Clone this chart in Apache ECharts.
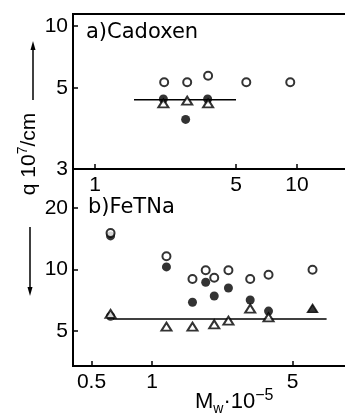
<!DOCTYPE html>
<html><head><meta charset="utf-8">
<script src="https://cdn.jsdelivr.net/npm/echarts@6/dist/echarts.min.js"></script>
<style>html,body{margin:0;padding:0;background:#fff}#c{width:345px;height:418px}</style>
</head><body><div id="c"></div>
<script>
// ---- a) Cadoxen ----
const aOpenX = [2.20, 2.86, 3.63, 5.61, 9.26];
const aOpenY = [5.33, 5.33, 5.74, 5.33, 5.33];
const aFillX = [2.18, 2.81, 3.61];
const aFillY = [4.42, 3.52, 4.42];
const aTriX = [2.18, 2.86, 3.63];
const aTriY = [4.21, 4.34, 4.21];
const aLineX = [1.56, 4.99];
const aLineY = [4.38, 4.38];
// ---- b) FeTNa ----
const bOpenX = [0.622, 1.18, 1.59, 1.85, 2.04, 2.40, 3.08, 3.80, 6.29];
const bOpenY = [15.1, 11.6, 8.98, 9.91, 9.12, 9.91, 8.98, 9.43, 9.98];
const bFillX = [0.622, 0.622, 1.18, 1.59, 1.85, 2.04, 2.40, 3.08, 3.80];
const bFillY = [14.6, 5.9, 10.3, 6.91, 8.66, 7.42, 8.12, 7.09, 6.26];
const bFillTriX = [6.29];
const bFillTriY = [6.45];
const bTriX = [0.622, 1.18, 1.59, 2.04, 2.40, 3.08, 3.80];
const bTriY = [6.06, 5.25, 5.25, 5.39, 5.62, 6.43, 5.83];
const bLineX = [0.64, 7.39];
const bLineY = [5.73, 5.73];
// ---- tick labels ----
const aXTicks = [1, 5, 10];
const aYTicks = [5, 10];
const aYBottomLabel = '3';
const bXTicks = [0.5, 1, 5];
const bYTicks = [5, 10, 20];

const L = Math.log10;
const pts = (xs, ys) => xs.map((x, i) => [L(x), L(ys[i])]);
const FONT = '"Liberation Sans Narrow","Liberation Sans",sans-serif';
const lab = {color:'#000', fontFamily: FONT, fontSize: 21};

const aYMin = 0.3058, aYMax = 1.0583;
function xAxis(idx, min, max, ticks){
  return {type:'value', gridIndex: idx, min, max, position:'bottom',
    axisLine:{show:true, onZero:false, lineStyle:{color:'#000', width:2}},
    splitLine:{show:false},
    axisTick:{show:true, inside:true, length:5, lineStyle:{color:'#000', width:1.5}, customValues: ticks.map(L)},
    axisLabel:Object.assign({margin:6, customValues: ticks.map(L), formatter: v => {
      const t = ticks.find(t => Math.abs(L(t)-v) < 1e-6); return t===undefined?'':String(t);}}, lab)};
}
const chart = echarts.init(document.getElementById('c'));
const sym = {
  open: {symbol:'circle', symbolSize:8, itemStyle:{color:'#fff', borderColor:'#000', borderWidth:2}},
  fill: {symbol:'circle', symbolSize:9, itemStyle:{color:'#000', borderColor:'#000', borderWidth:0}},
  tri: {symbol:'triangle', symbolSize:[10,8], itemStyle:{color:'#fff', borderColor:'#000', borderWidth:2}},
  ftri: {symbol:'triangle', symbolSize:[10,8], itemStyle:{color:'#000', borderColor:'#000', borderWidth:1.5}}
};
function sc(x, y, xs, ys, kind, z){
  return Object.assign({type:'scatter', xAxisIndex:x, yAxisIndex:y, data: pts(xs, ys), z: z, silent:true, animation:false}, sym[kind]);
}
function ln(x, y, xs, ys){
  return {type:'line', xAxisIndex:x, yAxisIndex:y, data: pts(xs, ys), symbol:'none', z:1,
    lineStyle:{color:'#000', width:1.5}, silent:true, animation:false};
}
chart.setOption({
  animation:false,
  grid:[
    {left:73, top:14, width:292, height:155, show:true, borderColor:'#000', borderWidth:2, backgroundColor:'transparent', outerBoundsMode:'none', containLabel:false},
    {left:73, top:169, width:292, height:197, show:true, borderColor:'#000', borderWidth:2, backgroundColor:'transparent', outerBoundsMode:'none', containLabel:false}
  ],
  xAxis:[
    xAxis(0, -0.1089, (365-95)/202, aXTicks),
    xAxis(1, (73-152)/201, (365-152)/201, bXTicks)
  ],
  yAxis:[
    {type:'value', gridIndex:0, min:aYMin, max:aYMax,
     axisLine:{show:true, onZero:false, lineStyle:{color:'#000', width:2}}, splitLine:{show:false},
     axisTick:{show:true, inside:true, length:5, lineStyle:{color:'#000', width:1.5}, customValues: aYTicks.map(L)},
     axisLabel:Object.assign({margin:5, customValues:[aYMin].concat(aYTicks.map(L)), formatter: v => {
       if (Math.abs(v-aYMin) < 1e-6) return aYBottomLabel;
       const t = aYTicks.find(t => Math.abs(L(t)-v) < 1e-6); return t===undefined?'':String(t);}}, lab)},
    {type:'value', gridIndex:1, min:1-96.5/204.3, max:1+100.5/204.3,
     axisLine:{show:true, onZero:false, lineStyle:{color:'#000', width:2}}, splitLine:{show:false},
     axisTick:{show:true, inside:true, length:5, lineStyle:{color:'#000', width:1.5}, customValues: bYTicks.map(L)},
     axisLabel:Object.assign({margin:5, customValues: bYTicks.map(L), formatter: v => {
       const t = bYTicks.find(t => Math.abs(L(t)-v) < 1e-6); return t===undefined?'':String(t);}}, lab)}
  ],
  series:[
    ln(0,0,aLineX,aLineY),
    sc(0,0,aFillX,aFillY,'fill',2),
    sc(0,0,aTriX,aTriY,'tri',3),
    sc(0,0,aOpenX,aOpenY,'open',4),
    ln(1,1,bLineX,bLineY),
    sc(1,1,bFillX,bFillY,'fill',2),
    sc(1,1,bFillTriX,bFillTriY,'ftri',2),
    sc(1,1,bTriX,bTriY,'tri',3),
    sc(1,1,bOpenX,bOpenY,'open',4)
  ],
  graphic:[
    {type:'text', left:86, top:22, style:{text:'a)Cadoxen', fill:'#000', font:'21px "DejaVu Sans", sans-serif'}},
    {type:'text', left:88, top:197, style:{text:'b)FeTNa', fill:'#000', font:'21px "DejaVu Sans", sans-serif'}},
    {type:'text', x:28, y:154, rotation:Math.PI/2, style:{
      text:'{n|q 10}{s|7}{n|/cm}', align:'center', verticalAlign:'middle',
      rich:{n:{fontFamily:FONT, fontSize:21, lineHeight:24, verticalAlign:'bottom', fill:'#000'},
            s:{fontFamily:FONT, fontSize:14, lineHeight:24, verticalAlign:'top', fill:'#000'}}}},
    {type:'line', shape:{x1:33, y1:100, x2:33, y2:46}, style:{stroke:'#000', lineWidth:1.5}},
    {type:'polygon', shape:{points:[[33,41],[30.5,50],[35.5,50]]}, style:{fill:'#000'}},
    {type:'line', shape:{x1:30, y1:227, x2:30, y2:290}, style:{stroke:'#000', lineWidth:1.5}},
    {type:'polygon', shape:{points:[[30,296],[27.5,287],[32.5,287]]}, style:{fill:'#000'}},
    {type:'text', x:195, y:402, style:{
      text:'{n|M}{b|w}{n|·10}{s|−5}', verticalAlign:'middle',
      rich:{n:{fontFamily:FONT, fontSize:22, lineHeight:28, verticalAlign:'middle', fill:'#000'},
            b:{fontFamily:FONT, fontSize:14, lineHeight:28, verticalAlign:'bottom', fill:'#000'},
            s:{fontFamily:FONT, fontSize:16, lineHeight:28, verticalAlign:'top', fill:'#000'}}}}
  ]
});
</script></body></html>
